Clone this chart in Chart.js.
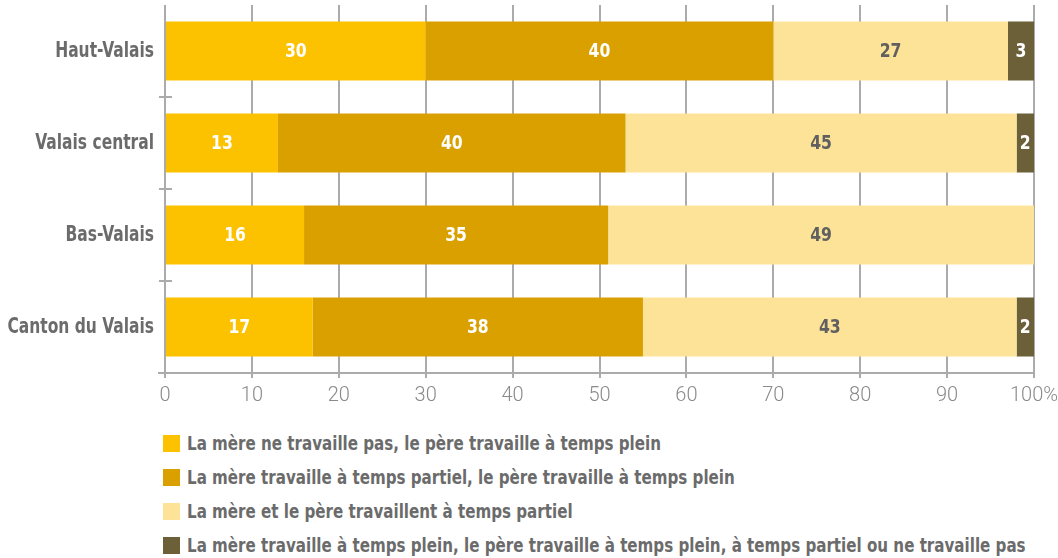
<!DOCTYPE html>
<html>
<head>
<meta charset="utf-8">
<script src="https://cdn.jsdelivr.net/npm/chart.js@4"></script>
<style>
  html, body { margin: 0; padding: 0; background: #fff; }
  #wrap { position: relative; width: 1058px; height: 558px; overflow: hidden; }
  #chartBox { position: absolute; left: 0; top: 0; width: 1058px; height: 420px; }
  #legend { position: absolute; left: 163px; top: 435px; margin: 0; padding: 0; list-style: none;
    font-family: "DejaVu Sans Condensed", sans-serif; font-weight: bold;
    font-size: 20px; color: #6b6b6b; }
  #legend li { height: 34px; white-space: nowrap; position: relative; }
  #legend span.box { position: absolute; left: 0; top: 0; width: 17px; height: 17px; }
  #legend span.txt { position: absolute; left: 24px; top: -3px; line-height: 23px;
    display: inline-block; transform: scaleX(0.84); transform-origin: 0 50%; }
</style>
</head>
<body>
<div id="wrap">
  <div id="chartBox"><canvas id="chart"></canvas></div>
  <ul id="legend"></ul>
</div>
<script>
// categories (top to bottom)
const regions = ['Haut-Valais', 'Valais central', 'Bas-Valais', 'Canton du Valais'];

// series, in % per region
const seriesNames = [
    'La mère ne travaille pas, le père travaille à temps plein',
    'La mère travaille à temps partiel, le père travaille à temps plein',
    'La mère et le père travaillent à temps partiel',
    'La mère travaille à temps plein, le père travaille à temps plein, à temps partiel ou ne travaille pas'
];
const motherNotWorking = [30, 13, 16, 17];
const motherPartTime = [40, 40, 35, 38];
const bothPartTime = [27, 45, 49, 43];
const motherFullTime = [3, 2, 0, 2];

const seriesColors = ['#fcc200', '#d9a000', '#fde397', '#6b6038'];
const labelColors = ['#ffffff', '#ffffff', '#606060', '#ffffff'];

const xTicks = [0, 10, 20, 30, 40, 50, 60, 70, 80, 90, 100];

const condensed = '"DejaVu Sans Condensed", sans-serif';
const gridGrey = '#ababab';

// draw text squeezed horizontally (the original uses a narrow face)
function narrowText(ctx, text, x, y, squeeze) {
    ctx.save();
    ctx.translate(x, y);
    ctx.scale(squeeze, 1);
    ctx.fillText(text, 0, 0);
    ctx.restore();
}

// write the value in the middle of each segment
const segmentLabels = {
    id: 'segmentLabels',
    afterDatasetsDraw(chart) {
        const ctx = chart.ctx;
        ctx.save();
        ctx.font = 'bold 20px ' + condensed;
        ctx.textAlign = 'center';
        ctx.textBaseline = 'middle';
        chart.data.datasets.forEach((ds, i) => {
            const meta = chart.getDatasetMeta(i);
            meta.data.forEach((bar, j) => {
                const v = ds.data[j];
                if (!v) return;
                ctx.fillStyle = labelColors[i];
                narrowText(ctx, String(v), (bar.x + bar.base) / 2, bar.y + 1, 0.87);
            });
        });
        ctx.restore();
    }
};

// region names on the left + little ticks between the categories
const categoryAxis = {
    id: 'categoryAxis',
    afterDraw(chart) {
        const ctx = chart.ctx;
        const y = chart.scales.y;
        const left = chart.chartArea.left;
        ctx.save();
        ctx.font = 'bold 21px ' + condensed;
        ctx.fillStyle = '#6b6b6b';
        ctx.textAlign = 'right';
        ctx.textBaseline = 'middle';
        regions.forEach((name, i) => {
            narrowText(ctx, name, left - 11, y.getPixelForValue(i) + 1, 0.82);
        });
        ctx.strokeStyle = gridGrey;
        ctx.lineWidth = 2;
        ctx.beginPath();
        for (let i = 0; i < regions.length - 1; i++) {
            const py = (y.getPixelForValue(i) + y.getPixelForValue(i + 1)) / 2;
            ctx.moveTo(left - 6, py);
            ctx.lineTo(left + 7, py);
        }
        // x axis line reaches a bit past the left axis
        ctx.moveTo(left - 7, chart.chartArea.bottom);
        ctx.lineTo(left, chart.chartArea.bottom);
        ctx.stroke();
        ctx.restore();
    }
};

const datasets = [motherNotWorking, motherPartTime, bothPartTime, motherFullTime].map((vals, i) => ({
    label: seriesNames[i],
    data: vals,
    backgroundColor: seriesColors[i],
    borderWidth: 0,
    categoryPercentage: 1,
    barPercentage: 0.64
}));

new Chart(document.getElementById('chart'), {
    type: 'bar',
    data: { labels: regions, datasets: datasets },
    plugins: [segmentLabels, categoryAxis],
    options: {
        indexAxis: 'y',
        responsive: true,
        maintainAspectRatio: false,
        animation: false,
        layout: { padding: { top: 5, right: 24, left: 0, bottom: 0 } },
        plugins: {
            legend: { display: false },
            tooltip: { enabled: false }
        },
        scales: {
            x: {
                stacked: true,
                min: 0,
                max: 100,
                afterBuildTicks: (scale) => { scale.ticks = xTicks.map(v => ({ value: v })); },
                afterFit: (scale) => {
                    scale.height = 47;
                    scale.paddingLeft = 0;
                    scale.paddingRight = 0;
                },
                grid: { color: gridGrey, lineWidth: 2, tickLength: 5, drawOnChartArea: true },
                border: { display: true, color: gridGrey, width: 2 },
                ticks: {
                    padding: 6,
                    color: '#8a8a8a',
                    font: { family: 'Roboto', size: 20, weight: '300' },
                    callback: (v) => v === 100 ? '100%' : String(v)
                }
            },
            y: {
                stacked: true,
                afterFit: (scale) => {
                    scale.width = 165;
                    scale.paddingTop = 0;
                    scale.paddingBottom = 0;
                },
                grid: { display: false, drawTicks: false },
                border: { display: false },
                ticks: { display: false }
            }
        }
    }
});

// legend as plain HTML, one row per series
const legend = document.getElementById('legend');
seriesNames.forEach((name, i) => {
    const li = document.createElement('li');
    const box = document.createElement('span');
    box.className = 'box';
    box.style.background = seriesColors[i];
    const txt = document.createElement('span');
    txt.className = 'txt';
    txt.textContent = name;
    li.appendChild(box);
    li.appendChild(txt);
    legend.appendChild(li);
});
</script>
</body>
</html>
